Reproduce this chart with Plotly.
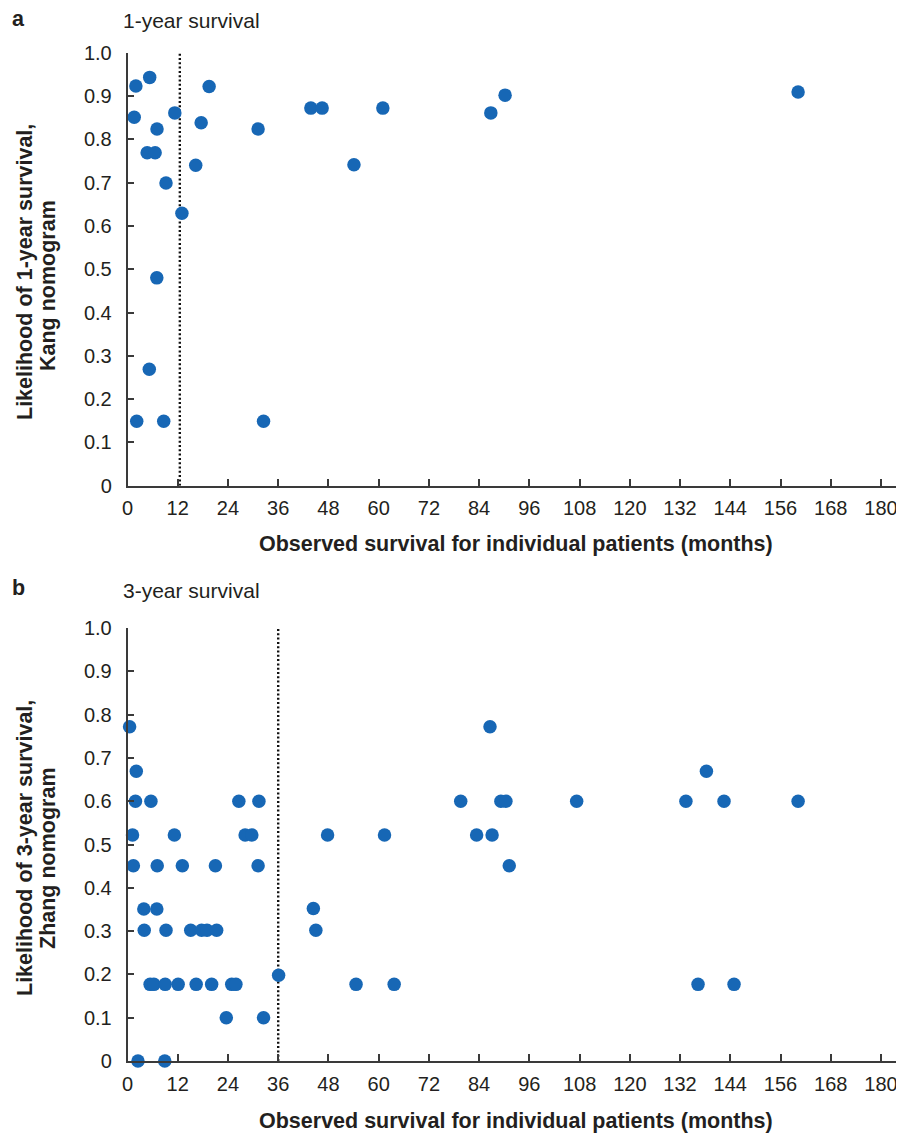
import plotly.graph_objects as go

# ---------------- data ----------------
a_months = [1.6, 2.0, 2.2, 4.7, 5.3, 5.2, 6.6, 7.0, 7.05, 8.65, 9.2, 11.3, 13.0,
            16.3, 17.6, 19.5, 31.2, 32.5, 43.8, 46.5, 54.1, 61.0, 86.8, 90.2, 160.2]
a_values = [0.851, 0.923, 0.149, 0.769, 0.943, 0.269, 0.769, 0.48, 0.824, 0.149, 0.699, 0.861, 0.629,
            0.74, 0.838, 0.922, 0.824, 0.149, 0.872, 0.872, 0.741, 0.872, 0.861, 0.902, 0.909]

b_months = [0.5, 2.1, 1.9, 5.6, 26.6, 31.4,
            1.2, 11.2, 28.1, 29.7,
            1.4, 7.1, 13.1, 21.0, 31.2,
            3.9, 7.0,
            4.0, 9.2, 15.1, 17.7, 19.0, 21.3,
            36.1,
            5.4, 6.3, 9.0, 12.1, 16.4, 20.1, 24.9, 25.9,
            23.6, 32.5,
            2.5, 8.9,
            44.4, 45.0, 47.8, 61.4, 54.6, 63.7,
            86.6, 79.6, 89.2, 90.4, 107.3, 133.4, 142.5, 138.3,
            83.4, 87.1, 91.2, 160.2, 136.3, 144.9]
b_values = [0.772, 0.669, 0.60, 0.60, 0.60, 0.60,
            0.522, 0.522, 0.522, 0.522,
            0.451, 0.451, 0.451, 0.451, 0.451,
            0.351, 0.351,
            0.302, 0.302, 0.302, 0.302, 0.302, 0.302,
            0.198,
            0.177, 0.177, 0.177, 0.177, 0.177, 0.177, 0.177, 0.177,
            0.1, 0.1,
            0.0, 0.0,
            0.352, 0.302, 0.522, 0.522, 0.177, 0.177,
            0.772, 0.60, 0.60, 0.60, 0.60, 0.60, 0.60, 0.669,
            0.522, 0.522, 0.451, 0.60, 0.177, 0.177]

cutoff_a = 12.5
cutoff_b = 36

x_ticks = list(range(0, 181, 12))
y_ticks = [i / 10 for i in range(11)]
y_labels = ["0"] + [f"{v:.1f}" for v in y_ticks[1:]]

# ---------------- style ----------------
PAGE_W, PAGE_H = 904, 1137
OFF = 8                      # default page (body) margin
W, H = PAGE_W - OFF, PAGE_H - OFF
FONT = "Liberation Sans, Arial, Helvetica, sans-serif"
TXT = "#231f20"
AX = "#3a3a3a"
DOT = "#1767b5"

x0px, pxm = 127.5 - OFF, 4.186
xdom = [x0px / W, 1.0]
xrange_ = [0, (W - x0px) / pxm]


def ydom(top, bottom):
    return [1 - (bottom - OFF) / H, 1 - (top - OFF) / H]


fig = go.Figure()
fig.add_trace(go.Scatter(x=a_months, y=a_values, mode="markers", xaxis="x", yaxis="y",
                         marker=dict(size=13.5, color=DOT), cliponaxis=False, showlegend=False))
fig.add_trace(go.Scatter(x=b_months, y=b_values, mode="markers", xaxis="x2", yaxis="y2",
                         marker=dict(size=13.5, color=DOT), cliponaxis=False, showlegend=False))

common_x = dict(range=xrange_, domain=xdom, showline=True, linecolor=AX, linewidth=1.5,
                ticks="inside", ticklen=7, tickwidth=1.5, tickcolor=AX,
                tickvals=x_ticks, ticktext=[str(v) for v in x_ticks],
                tickfont=dict(family=FONT, size=20, color=TXT), ticklabelstandoff=4,
                showgrid=False, zeroline=False, fixedrange=True, automargin=False)
common_y = dict(range=[0, 1], showline=True, linecolor=AX, linewidth=1.5,
                ticks="inside", ticklen=7, tickwidth=1.5, tickcolor=AX,
                tickvals=y_ticks, ticktext=y_labels,
                tickfont=dict(family=FONT, size=20, color=TXT), ticklabelstandoff=10,
                showgrid=False, zeroline=False, fixedrange=True, automargin=False)

fig.update_layout(
    width=W, height=H, margin=dict(l=0, r=0, t=0, b=0, autoexpand=False), autosize=False,
    paper_bgcolor="white", plot_bgcolor="white",
    xaxis=dict(common_x, anchor="y"),
    yaxis=dict(common_y, domain=ydom(52.7, 485.7), anchor="x"),
    xaxis2=dict(common_x, anchor="y2"),
    yaxis2=dict(common_y, domain=ydom(628, 1061), anchor="x2"),
)

for xr, yr, c in (("x", "y", cutoff_a), ("x2", "y2", cutoff_b)):
    fig.add_shape(type="line", xref=xr, yref=yr, x0=c, x1=c, y0=0, y1=1, layer="below",
                  line=dict(color="#111", width=2.4, dash="2px,2.3px"))


def ann(text, x, y, size=21.5, bold=False, angle=0, xanchor="center"):
    fig.add_annotation(text=f"<b>{text}</b>" if bold else text, xref="paper", yref="paper",
                       x=(x - OFF) / W, y=1 - (y - OFF) / H, xanchor=xanchor, yanchor="middle",
                       showarrow=False, textangle=angle,
                       font=dict(family=FONT, size=size, color=TXT))


ann("a", 10, 19, bold=True, xanchor="left")
ann("1-year survival", 121, 21, size=21, xanchor="left")
ann("b", 10, 588, bold=True, xanchor="left")
ann("3-year survival", 121, 591, size=21, xanchor="left")

ann("Likelihood of 1-year survival,", 25, 272, bold=True, angle=-90)
ann("Kang nomogram", 48, 286, bold=True, angle=-90)
ann("Likelihood of 3-year survival,", 25, 848, bold=True, angle=-90)
ann("Zhang nomogram", 48, 858, bold=True, angle=-90)

ann("Observed survival for individual patients (months)", 516, 544, bold=True)
ann("Observed survival for individual patients (months)", 516, 1121, bold=True)

fig.write_html("out.html")
